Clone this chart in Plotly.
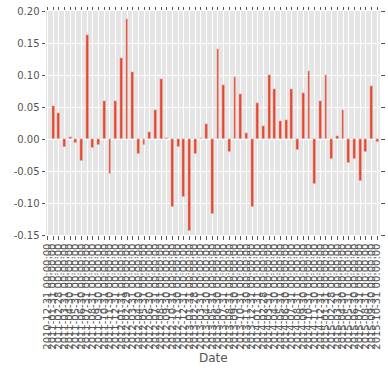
import plotly.graph_objects as go
import pandas as pd

dates = pd.date_range("2010-12-31", periods=59, freq="ME")
date_labels = [d.strftime("%Y-%m-%d %H:%M:%S") for d in dates]

returns = [
    None, 0.051, 0.041, -0.0125, 0.0036, -0.0057, -0.034, 0.162, -0.014, -0.009,
    0.060, -0.055, 0.059, 0.127, 0.1875, 0.104, -0.024, -0.010, 0.011, 0.045,
    0.093, 0.002, -0.106, -0.012, -0.091, -0.143, -0.024, 0.002, 0.023, -0.117,
    0.141, 0.084, -0.020, 0.097, 0.070, 0.009, -0.106, 0.057, 0.020, 0.100,
    0.078, 0.028, 0.030, 0.078, -0.017, 0.072, 0.106, -0.071, 0.060, 0.100,
    -0.031, 0.005, 0.045, -0.037, -0.032, -0.065, -0.021, 0.083, -0.004,
]

y_ticks = [-0.15, -0.10, -0.05, 0.00, 0.05, 0.10, 0.15, 0.20]
y_ticktext = ["%.2f" % v for v in y_ticks]

positions = list(range(len(date_labels)))

fig = go.Figure(
    go.Bar(
        x=positions,
        y=returns,
        width=0.5,
        marker=dict(color="#E24A33", line=dict(color="#EEEEEE", width=0.5)),
        hovertext=date_labels,
    )
)

fig.update_layout(
    width=388,
    height=373,
    margin=dict(l=46, r=8, t=11, b=138, autoexpand=False),
    paper_bgcolor="white",
    plot_bgcolor="#E5E5E5",
    showlegend=False,
    font=dict(family="DejaVu Sans", size=10, color="#555555"),
    bargap=0,
    annotations=[
        dict(
            text="Date",
            x=0.5,
            y=-0.549,
            xref="paper",
            yref="paper",
            xanchor="center",
            yanchor="middle",
            showarrow=False,
            font=dict(size=12, color="#555555"),
        )
    ],
)

fig.update_xaxes(
    type="linear",
    range=[-0.25, 58.5],
    tickmode="array",
    tickvals=positions,
    ticktext=date_labels,
    tickangle=-90,
    ticks="outside",
    ticklen=3.5,
    tickwidth=1,
    tickcolor="#555555",
    mirror="ticks",
    showline=False,
    showgrid=True,
    gridcolor="white",
    gridwidth=1,
    zeroline=False,
    automargin=False,
    tickfont=dict(size=10, color="#555555"),
)

fig.update_yaxes(
    range=[-0.15, 0.20],
    tickmode="array",
    tickvals=y_ticks,
    ticktext=y_ticktext,
    ticks="outside",
    ticklen=3.5,
    tickwidth=1,
    tickcolor="#555555",
    mirror="ticks",
    showline=False,
    showgrid=True,
    gridcolor="white",
    gridwidth=1,
    zeroline=False,
    automargin=False,
    tickfont=dict(size=10, color="#555555"),
)

fig.write_html(
    "out.html",
    config={"displayModeBar": False},
    post_script="document.body.style.margin='0';document.body.style.padding='0';",
)
